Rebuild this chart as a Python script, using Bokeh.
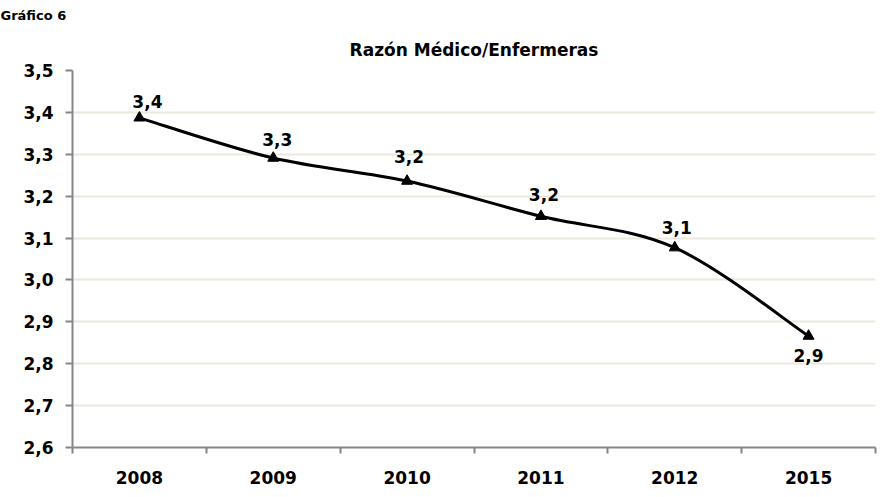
from bokeh.plotting import figure
from bokeh.models import Range1d, FixedTicker, CustomJSTickFormatter, ColumnDataSource, Title
from bokeh.core.properties import value
from bokeh.embed import file_html
from bokeh.resources import INLINE

years = ["2008", "2009", "2010", "2011", "2012", "2015"]
ratio = [3.387, 3.291, 3.236, 3.152, 3.077, 2.866]
labels = ["3,4", "3,3", "3,2", "3,2", "3,1", "2,9"]
y_ticks = [2.6, 2.7, 2.8, 2.9, 3.0, 3.1, 3.2, 3.3, 3.4, 3.5]

# data-label placement (screen px offsets from each point)
label_dx = [8, 4, 2, 3, 2, 0]
label_dy = [-16, -19, -25, -22, -20, 19]

FONT = "DejaVu Sans"
GRAY = "#868686"

n = len(years)
xs = [i + 0.5 for i in range(n)]

W, H = 880, 489
p = figure(width=W, height=H, output_backend="svg", toolbar_location=None,
           x_range=Range1d(0, n), y_range=Range1d(y_ticks[0], y_ticks[-1]),
           min_border_left=72, min_border_right=5, min_border_top=69, min_border_bottom=42,
           title="Gráfico 6")
p.outline_line_color = None
p.background_fill_color = "white"
p.border_fill_color = "white"

# caption at the top left (outermost)
p.title.align = "left"
p.title.offset = -72
p.title.standoff = 10
p.title.text_font = FONT
p.title.text_font_size = "13px"
p.title.text_font_style = "bold"
p.title.text_color = "black"

# chart title, next to the plot area
p.add_layout(Title(text="Razón Médico/Enfermeras", align="center", standoff=21,
                   text_font=FONT, text_font_size="17px", text_font_style="bold",
                   text_color="black"), "above")

# y axis
p.yaxis.ticker = FixedTicker(ticks=y_ticks)
p.yaxis.formatter = CustomJSTickFormatter(code="return tick.toFixed(1).replace('.', ',');")
p.yaxis.major_label_text_font = FONT
p.yaxis.major_label_text_font_size = "17px"
p.yaxis.major_label_text_font_style = "bold"
p.yaxis.major_label_text_color = "black"
p.yaxis.axis_line_color = GRAY
p.yaxis.axis_line_width = 2
p.yaxis.major_tick_line_color = GRAY
p.yaxis.major_tick_line_width = 2
p.yaxis.major_tick_out = 7
p.yaxis.major_tick_in = 0
p.yaxis.minor_tick_line_color = None
p.yaxis.major_label_standoff = 12

# x axis
p.xaxis.ticker = FixedTicker(ticks=xs, minor_ticks=list(range(n + 1)))
p.xaxis.formatter = CustomJSTickFormatter(args=dict(years=years),
                                          code="return years[Math.round(tick - 0.5)];")
p.xaxis.major_label_text_font = FONT
p.xaxis.major_label_text_font_size = "17px"
p.xaxis.major_label_text_font_style = "bold"
p.xaxis.major_label_text_color = "black"
p.xaxis.axis_line_color = GRAY
p.xaxis.axis_line_width = 2
p.xaxis.major_tick_line_color = None
p.xaxis.major_tick_out = 0
p.xaxis.major_tick_in = 0
p.xaxis.minor_tick_line_color = GRAY
p.xaxis.minor_tick_line_width = 2
p.xaxis.minor_tick_out = 6
p.xaxis.minor_tick_in = 0
p.xaxis.major_label_standoff = 17

p.xgrid.grid_line_color = None
p.ygrid.grid_line_color = "#ebe8dc"
p.ygrid.grid_line_width = 2

# smoothed line (Catmull-Rom -> cubic Bezier, like Excel smoothing)
def ctrl(pts):
    out = []
    m = len(pts)
    for i in range(m - 1):
        p0 = pts[i - 1] if i > 0 else pts[i]
        p1 = pts[i]
        p2 = pts[i + 1]
        p3 = pts[i + 2] if i + 2 < m else pts[i + 1]
        c1 = (p1[0] + (p2[0] - p0[0]) / 6, p1[1] + (p2[1] - p0[1]) / 6)
        c2 = (p2[0] - (p3[0] - p1[0]) / 6, p2[1] - (p3[1] - p1[1]) / 6)
        out.append((p1, p2, c1, c2))
    return out

segs = ctrl(list(zip(xs, ratio)))
bsrc = ColumnDataSource(dict(
    x0=[s[0][0] for s in segs], y0=[s[0][1] for s in segs],
    x1=[s[1][0] for s in segs], y1=[s[1][1] for s in segs],
    cx0=[s[2][0] for s in segs], cy0=[s[2][1] for s in segs],
    cx1=[s[3][0] for s in segs], cy1=[s[3][1] for s in segs]))
p.bezier(x0="x0", y0="y0", x1="x1", y1="y1", cx0="cx0", cy0="cy0", cx1="cx1", cy1="cy1",
         source=bsrc, line_color="black", line_width=3, line_cap="round")

p.scatter(xs, ratio, marker="triangle", size=11, color="black")

lsrc = ColumnDataSource(dict(x=xs, y=ratio, t=labels, dx=label_dx, dy=label_dy))
p.text(x="x", y="y", text="t", x_offset="dx", y_offset="dy", source=lsrc,
       text_font=value(FONT), text_font_size="17px", text_font_style="bold",
       text_color="black", text_align="center", text_baseline="middle")

open("out.html", "w").write(file_html(p, INLINE))
